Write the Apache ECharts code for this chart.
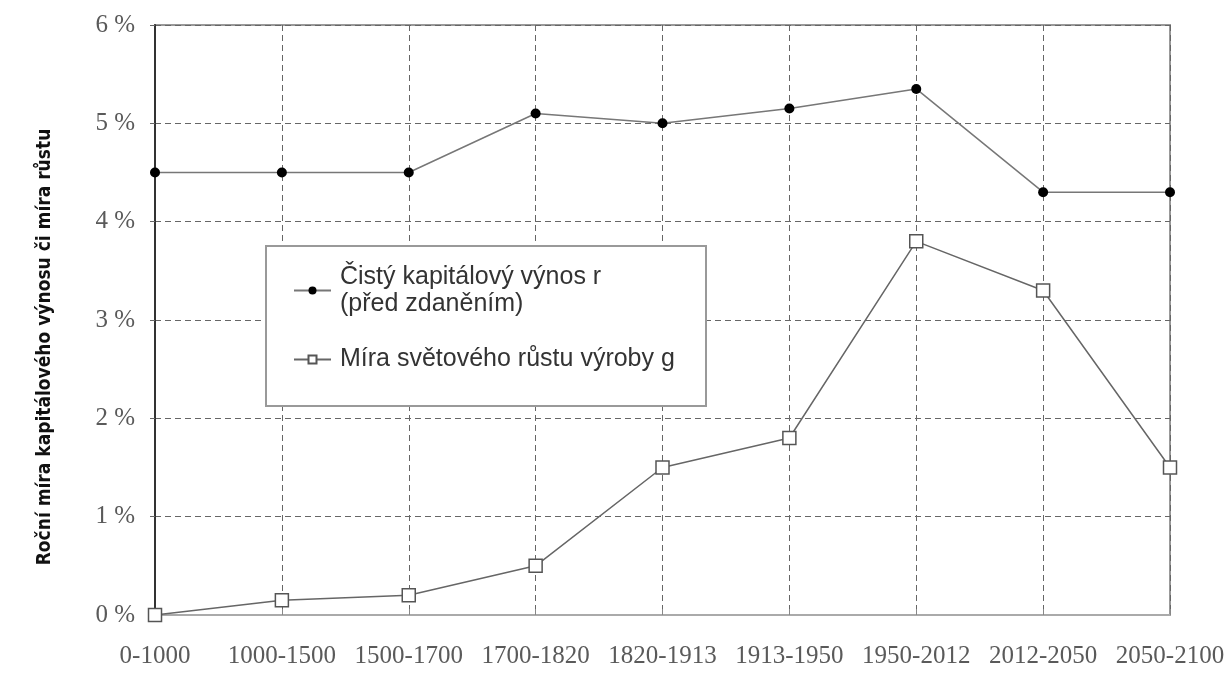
<!DOCTYPE html>
<html>
<head>
<meta charset="utf-8">
<script src="https://cdn.jsdelivr.net/npm/echarts@6/dist/echarts.min.js"></script>
<style>
	html, body { margin: 0; padding: 0; background: #fff; }
	#chart { width: 1229px; height: 673px; }
</style>
</head>
<body>
<div id="chart"></div>
<script>
// období (osa x)
const periods = ["0-1000", "1000-1500", "1500-1700", "1700-1820", "1820-1913", "1913-1950", "1950-2012", "2012-2050", "2050-2100"];
// čistý kapitálový výnos r (%)
const returnR = [4.5, 4.5, 4.5, 5.1, 5.0, 5.15, 5.35, 4.3, 4.3];
// míra světového růstu výroby g (%)
const growthG = [0.0, 0.15, 0.2, 0.5, 1.5, 1.8, 3.8, 3.3, 1.5];
const yTicks = [0, 1, 2, 3, 4, 5, 6];

const nameR = "Čistý kapitálový výnos r\n(před zdaněním)";
const nameG = "Míra světového růstu výroby g";

const serif = "'Liberation Serif', 'DejaVu Serif', serif";
const narrow = "'Liberation Sans Narrow', 'DejaVu Sans Condensed', 'Liberation Sans', sans-serif";

const chart = echarts.init(document.getElementById("chart"));
chart.setOption({
	backgroundColor: "#fff",
	animation: false,
	grid: {
		left: 155,
		right: 59,
		top: 25,
		bottom: 58,
		show: true,
		borderColor: "#999",
		borderWidth: 2,
	},
	graphic: [
		{
			type: "rect",
			left: 265,
			top: 245,
			shape: { width: 440, height: 160 },
			style: { fill: "#fff", stroke: "#999", lineWidth: 2 },
			z: 50,
		},
	],
	legend: {
		orient: "vertical",
		left: 288,
		top: 245,
		z: 60,
		itemWidth: 37,
		itemHeight: 10,
		itemGap: 15,
		textStyle: {
			fontFamily: "'Liberation Sans', Arial, sans-serif",
			fontSize: 25,
			color: "#333",
			lineHeight: 27,
			padding: [0, 0, 0, 4],
		},
		data: [
			{ name: nameR, textStyle: { padding: [27, 0, 0, 4] } },
			{ name: nameG },
		],
	},
	xAxis: {
		type: "category",
		data: periods,
		boundaryGap: false,
		axisLine: { lineStyle: { color: "#aaa", width: 2 } },
		axisTick: { show: true, length: 6, inside: true, lineStyle: { color: "#888" } },
		axisLabel: {
			interval: 0,
			margin: 29,
			fontFamily: serif,
			fontSize: 25,
			color: "#5a5a5a",
		},
		splitLine: {
			show: true,
			interval: 0,
			lineStyle: { color: "#666", type: [6, 4], width: 1 },
		},
	},
	yAxis: {
		type: "value",
		min: yTicks[0],
		max: yTicks[yTicks.length - 1],
		interval: 1,
		name: "Roční míra kapitálového výnosu či míra růstu",
		nameLocation: "middle",
		nameGap: 100,
		nameTextStyle: {
			fontFamily: narrow,
			fontWeight: "bold",
			fontSize: 19,
			color: "#111",
			padding: [0, 54, 0, 0],
		},
		axisLine: { show: true, lineStyle: { color: "#333", width: 2 } },
		axisTick: { show: true, length: 5, lineStyle: { color: "#666" } },
		axisLabel: {
			margin: 20,
			fontFamily: serif,
			fontSize: 25,
			color: "#5a5a5a",
			formatter: (v) => v + " %",
		},
		splitLine: {
			show: true,
			lineStyle: { color: "#666", type: [6, 4], width: 1 },
		},
	},
	series: [
		{
			name: nameR,
			type: "line",
			data: returnR,
			symbol: "circle",
			symbolSize: 10,
			itemStyle: { color: "#000" },
			lineStyle: { color: "#777", width: 1.5 },
			z: 10,
		},
		{
			name: nameG,
			type: "line",
			data: growthG,
			symbol: "rect",
			symbolSize: 13,
			itemStyle: { color: "#fff", borderColor: "#555", borderWidth: 1.5 },
			lineStyle: { color: "#666", width: 1.5 },
			z: 10,
		},
	],
});
</script>
</body>
</html>
